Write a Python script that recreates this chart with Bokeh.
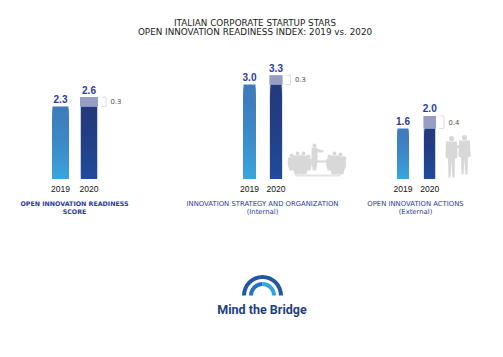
from bokeh.plotting import figure
from bokeh.embed import file_html
from bokeh.resources import INLINE
from bokeh.models import Range1d
import numpy as np

title_lines = ["ITALIAN CORPORATE STARTUP STARS", "OPEN INNOVATION READINESS INDEX: 2019 vs. 2020"]
years = ["2019", "2020"]
scores_2019 = [2.3, 3.0, 1.6]
scores_2020 = [2.6, 3.3, 2.0]
deltas = [0.3, 0.3, 0.4]
group_labels = [["OPEN INNOVATION READINESS", "SCORE"],
                ["INNOVATION STRATEGY AND ORGANIZATION", "(Internal)"],
                ["OPEN INNOVATION ACTIONS", "(External)"]]
logo_text = "Mind the Bridge"

W, H = 495, 349
BASE, UNIT = 178.0, 31.3
def Y(py):
    return (BASE - np.asarray(py, dtype=float)) / UNIT

p = figure(width=W, height=H, output_backend="svg", toolbar_location=None,
           x_range=Range1d(0, W), y_range=Range1d(float(Y(H)), float(Y(0))),
           min_border=0, outline_line_color=None, background_fill_color="white")
p.axis.visible = False
p.grid.visible = False

def lerp(a, b, t):
    ca = [int(a[i:i+2], 16) for i in (1, 3, 5)]
    cb = [int(b[i:i+2], 16) for i in (1, 3, 5)]
    return "#%02x%02x%02x" % tuple(round(x + (y - x) * t) for x, y in zip(ca, cb))

def gradient_bar(x0, x1, top, col_top, col_bottom, n=32):
    # painted top-down so each shorter rectangle covers the previous one
    for k in range(n):
        t = k / (n - 1)
        p.quad(left=[x0], right=[x1], bottom=[0], top=[top * (1 - k / n)],
               fill_color=lerp(col_top, col_bottom, t ** 1.6), line_color=None)

def txt(x, py, s, size, color, align="center", bold=False, font="DejaVu Sans"):
    p.text([x], [float(Y(py))], text=[s], text_font_size=f"{size}px", text_color=color,
           text_align=align, text_baseline="middle",
           text_font_style="bold" if bold else "normal",
           text_font={"value": font})

# title
txt(254.5, 22, title_lines[0], 8.8, "#1a1a1a")
txt(254.5, 31, title_lines[1], 8.8, "#1a1a1a")

BLUE = "#2b3b9c"
bars = [(52, 68, 80.5, 96.5, 74), (243, 255, 270, 281, 262), (397, 408, 424, 434.5, 415)]
for (a0, a1, b0, b1, c), v19, v20, d, lab in zip(bars, scores_2019, scores_2020, deltas, group_labels):
    gradient_bar(a0, a1, v19, "#3f7cbc", "#38a5e0")
    # light edge of the 2020 bar
    p.quad(left=[b0 - 1], right=[b1 + 1], bottom=[0], top=[v20], fill_color="#c9cfe2", line_color=None)
    gradient_bar(b0, b1, v19, "#243a7e", "#1f4c9c")
    p.quad(left=[b0 - 1], right=[b1 + 1], bottom=[v19], top=[v20], fill_color="#969fc3", line_color=None)

    txt((a0 + a1) / 2, BASE - v19 * UNIT - 7.5, f"{v19:.1f}", 10, BLUE, bold=True, font="Liberation Sans")
    txt((b0 + b1) / 2, BASE - v20 * UNIT - 7.5, f"{v20:.1f}", 10, BLUE, bold=True, font="Liberation Sans")
    txt((a0 + a1) / 2, 188, years[0], 8.5, "#111111", font="Liberation Sans")
    txt((b0 + b1) / 2, 188, years[1], 8.5, "#111111", font="Liberation Sans")

    # bracket and delta label
    bx0, bx1 = b1 + 4.5, b1 + 9
    p.line([bx0, bx1, bx1, bx0], [v20, v20, v19, v19], line_color="#dddddd", line_width=1)
    txt(b1 + 13.5, BASE - (v19 + v20) / 2 * UNIT, f"{d:.1f}", 6.8, "#555555", align="left")

    bold = lab[1] == "SCORE"
    size = 6.3 if bold else 6.85
    txt(c, 203, lab[0], size, BLUE, bold=bold)
    txt(c, 211, lab[1], size, BLUE, bold=bold)

# silhouettes (decoration, page-pixel outlines)
GREY = "#d8d8d8"
def person(cx, head_y, bottom, wide, head_r=2.4):
    p.circle([cx], [float(Y(head_y))], radius=head_r, fill_color=GREY, line_color=None)
    xs = [cx - wide, cx + wide, cx + wide * 1.1, cx + wide * .6, cx - wide * .6, cx - wide * 1.1]
    ys = [head_y + 2, head_y + 2, head_y + (bottom - head_y) * .6, bottom, bottom, head_y + (bottom - head_y) * .6]
    p.patch(xs, Y(ys).tolist(), fill_color=GREY, line_color=None)

# meeting room
for cx, hy, bt, w in [(291, 155, 170, 3.5), (297, 153, 174, 4.5), (303, 153, 174, 4.5), (308, 156, 170, 3),
                      (329, 156, 170, 3), (334, 153, 174, 4.5), (340, 154, 174, 4.5), (344, 158, 168, 1.5)]:
    person(cx, hy, bt, w, head_r=2.0)
person(314, 145, 170, 2.8, head_r=2.0)
p.patch([316, 323, 323, 316], Y([148, 150, 152, 152]).tolist(), fill_color=GREY, line_color=None)
p.patch([305, 328, 328, 305], Y([160, 160, 162, 162]).tolist(), fill_color=GREY, line_color=None)
p.patch([295, 340, 340, 295], Y([174, 174, 176, 176]).tolist(), fill_color="#e4e4e4", line_color=None)

# two men
for cx, hy, bt in [(451, 138, 177), (464, 137, 174)]:
    p.circle([cx], [float(Y(hy))], radius=2.6, fill_color=GREY, line_color=None)
    p.patch([cx - 5.5, cx + 5.5, cx + 6, cx + 3.5, cx + 3, cx + .8, cx, cx - 1, cx - 3, cx - 3.5, cx - 6],
            Y([hy + 3, hy + 3, hy + 19, hy + 20, bt, bt, hy + 22, bt, bt, hy + 20, hy + 19]).tolist(),
            fill_color=GREY, line_color=None)
p.patch([455, 462, 462, 455], Y([146, 143, 145, 149]).tolist(), fill_color=GREY, line_color=None)

# logo
cx, cy = 262.0, float(Y(295))
p.annular_wedge([cx], [cy], inner_radius=16.5, outer_radius=20.5, start_angle=0, end_angle=np.pi,
                fill_color="#22589f", line_color=None)
p.annular_wedge([cx], [cy], inner_radius=9.5, outer_radius=13.5, start_angle=np.pi * .5, end_angle=np.pi,
                fill_color="#2673bd", line_color=None)
p.annular_wedge([cx], [cy], inner_radius=9.5, outer_radius=13.5, start_angle=0, end_angle=np.pi * .5,
                fill_color="#33a4de", line_color=None)
txt(261.5, 308.5, logo_text, 12.5, "#1f3f80", bold=True, font="Roboto")

open("out.html", "w").write(file_html(p, INLINE))
